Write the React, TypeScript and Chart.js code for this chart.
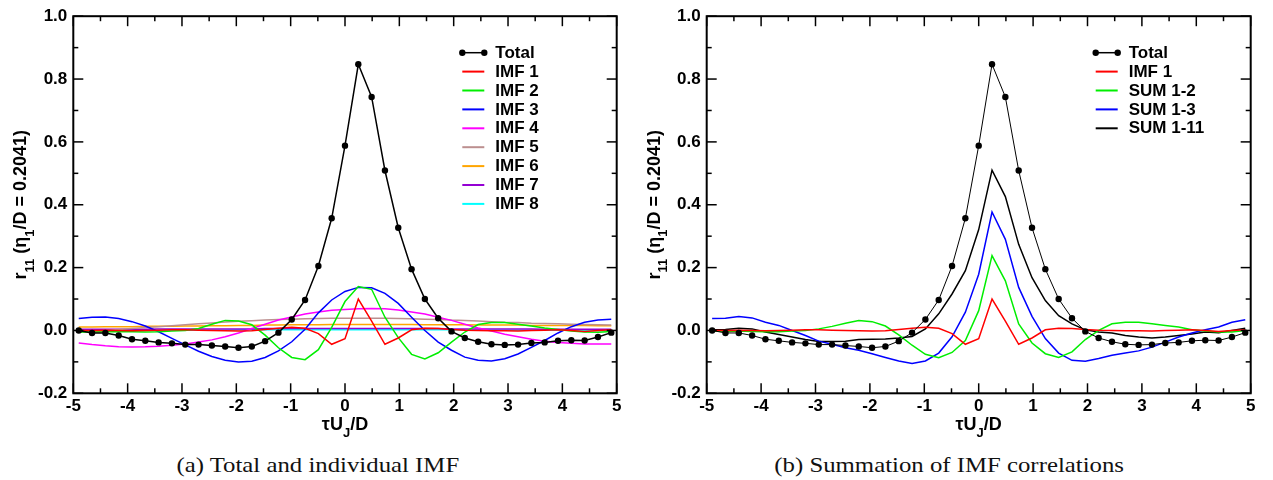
import React, { useEffect, useRef } from "react";
import { Chart, registerables } from "chart.js";
Chart.register(...registerables);

// ---- data ----
const tauUD = [
  -4.9, -4.655, -4.41, -4.165, -3.92, -3.675, -3.43, -3.185, -2.94, -2.695,
  -2.45, -2.205, -1.96, -1.715, -1.47, -1.225, -0.98, -0.735, -0.49, -0.245,
  0, 0.245, 0.49, 0.735, 0.98, 1.225, 1.47, 1.715, 1.96, 2.205,
  2.45, 2.695, 2.94, 3.185, 3.43, 3.675, 3.92, 4.165, 4.41, 4.655,
  4.9,
];

const totalR11 = [
  0.0, -0.008, -0.008, -0.016, -0.028, -0.033, -0.038, -0.041, -0.045, -0.045,
  -0.048, -0.051, -0.055, -0.051, -0.034, -0.007, 0.035, 0.097, 0.205, 0.357,
  0.588, 0.847, 0.743, 0.509, 0.327, 0.195, 0.1, 0.039, -0.003, -0.024,
  -0.036, -0.044, -0.046, -0.045, -0.04, -0.038, -0.033, -0.031, -0.032, -0.021,
  -0.007,
];

const imf1 = [
  0.0, 0.0, 0.001, 0.0, -0.001, 0.0, 0.001, 0.002, 0.002, 0.001,
  0.0, -0.001, -0.002, -0.001, 0.003, 0.007, 0.01, 0.007, -0.01, -0.044,
  -0.026, 0.1, 0.03, -0.044, -0.024, 0.002, 0.007, 0.006, 0.003, 0.001,
  0.0, -0.001, -0.001, -0.002, 0.0, 0.001, 0.002, 0.0, -0.003, 0.0,
  0.002,
];

const imf2 = [
  -0.005, -0.005, -0.004, -0.004, -0.004, -0.005, -0.004, -0.002, 0.0, 0.006,
  0.02, 0.032, 0.03, 0.018, -0.015, -0.055, -0.086, -0.093, -0.061, 0.01,
  0.092, 0.14, 0.131, 0.042, -0.023, -0.076, -0.091, -0.071, -0.037, -0.005,
  0.019, 0.025, 0.025, 0.02, 0.014, 0.008, 0.003, -0.002, -0.005, -0.006,
  -0.003,
];

const imf3 = [
  0.038, 0.042, 0.043, 0.038, 0.028, 0.014, -0.004, -0.025, -0.046, -0.066,
  -0.083, -0.095, -0.1, -0.098, -0.086, -0.065, -0.036, 0.004, 0.056, 0.097,
  0.124, 0.137, 0.136, 0.118, 0.086, 0.042, 0.0, -0.037, -0.063, -0.085,
  -0.095, -0.097, -0.09, -0.075, -0.054, -0.032, -0.008, 0.012, 0.026, 0.033,
  0.036,
];

const imf4 = [
  -0.04, -0.045, -0.049, -0.052, -0.053, -0.052, -0.05, -0.047, -0.043, -0.037,
  -0.03, -0.02, -0.008, 0.006, 0.02, 0.033, 0.043, 0.052, 0.059, 0.064,
  0.067, 0.069, 0.07, 0.069, 0.065, 0.059, 0.052, 0.042, 0.032, 0.02,
  0.008, -0.002, -0.012, -0.02, -0.028, -0.034, -0.038, -0.041, -0.043, -0.043,
  -0.043,
];

const imf5 = [
  -0.006, -0.003, 0.0, 0.003, 0.006, 0.009, 0.012, 0.015, 0.018, 0.021,
  0.024, 0.027, 0.029, 0.031, 0.033, 0.035, 0.036, 0.037, 0.038, 0.039,
  0.039, 0.039, 0.039, 0.039, 0.038, 0.037, 0.036, 0.035, 0.033, 0.032,
  0.03, 0.028, 0.026, 0.025, 0.023, 0.022, 0.021, 0.02, 0.019, 0.018,
  0.017,
];

const imf6 = [
  0.011, 0.011, 0.012, 0.012, 0.012, 0.013, 0.013, 0.013, 0.014, 0.014,
  0.015, 0.015, 0.016, 0.016, 0.017, 0.017, 0.018, 0.018, 0.018, 0.019,
  0.019, 0.019, 0.019, 0.019, 0.019, 0.019, 0.018, 0.018, 0.018, 0.018,
  0.017, 0.017, 0.017, 0.017, 0.016, 0.016, 0.016, 0.016, 0.016, 0.015,
  0.015,
];

const imf7 = [
  0.004, 0.004, 0.004, 0.004, 0.004, 0.004, 0.005, 0.005, 0.005, 0.005,
  0.005, 0.005, 0.005, 0.005, 0.006, 0.006, 0.006, 0.006, 0.006, 0.006,
  0.006, 0.006, 0.006, 0.006, 0.006, 0.006, 0.006, 0.006, 0.005, 0.005,
  0.005, 0.005, 0.005, 0.005, 0.005, 0.004, 0.004, 0.004, 0.004, 0.004,
  0.004,
];

const imf8 = [
  0.0, 0.0, 0.0, 0.001, 0.001, 0.001, 0.001, 0.001, 0.001, 0.001,
  0.001, 0.001, 0.002, 0.002, 0.002, 0.002, 0.002, 0.002, 0.002, 0.002,
  0.002, 0.002, 0.002, 0.002, 0.002, 0.002, 0.002, 0.002, 0.002, 0.001,
  0.001, 0.001, 0.001, 0.001, 0.001, 0.001, 0.001, 0.001, 0.0, 0.0,
  0.0,
];

const sum1to2 = [
  -0.002, -0.003, -0.002, -0.003, -0.004, -0.004, -0.002, 0.0, 0.005, 0.013,
  0.023, 0.032, 0.028, 0.014, -0.014, -0.047, -0.076, -0.087, -0.07, -0.032,
  0.063, 0.238, 0.158, 0.021, -0.04, -0.074, -0.086, -0.068, -0.029, 0.0,
  0.021, 0.026, 0.026, 0.021, 0.016, 0.011, 0.002, -0.002, -0.005, -0.005,
  0.0,
];

const sum1to3 = [
  0.038, 0.039, 0.044, 0.04, 0.026, 0.016, 0.0, -0.016, -0.034, -0.044,
  -0.055, -0.063, -0.074, -0.086, -0.097, -0.105, -0.097, -0.072, -0.02, 0.058,
  0.179, 0.377, 0.29, 0.137, 0.045, -0.026, -0.072, -0.095, -0.098, -0.089,
  -0.079, -0.072, -0.065, -0.053, -0.037, -0.021, -0.008, 0.002, 0.011, 0.026,
  0.034,
];

const sum1to11 = [
  0.002, 0.003, 0.007, 0.005, -0.005, -0.013, -0.021, -0.029, -0.035, -0.035,
  -0.034, -0.029, -0.028, -0.027, -0.024, -0.019, 0.005, 0.053, 0.116, 0.19,
  0.321, 0.51, 0.426, 0.274, 0.168, 0.095, 0.047, 0.021, 0.002, -0.005,
  -0.008, -0.016, -0.021, -0.024, -0.021, -0.016, -0.011, -0.005, -0.007, 0.0,
  0.007,
];

const captionA = "(a) Total and individual IMF";
const captionB = "(b) Summation of IMF correlations";

type SeriesDef = { label: string; values: number[]; color: string; width: number; dots?: boolean };

const seriesA: SeriesDef[] = [
  { label: "Total", values: totalR11, color: "#000000", width: 1.5, dots: true },
  { label: "IMF 1", values: imf1, color: "#ff0000", width: 1.5 },
  { label: "IMF 2", values: imf2, color: "#00ee00", width: 1.5 },
  { label: "IMF 3", values: imf3, color: "#0000ff", width: 1.5 },
  { label: "IMF 4", values: imf4, color: "#ff00ff", width: 1.5 },
  { label: "IMF 5", values: imf5, color: "#bc8f8f", width: 1.5 },
  { label: "IMF 6", values: imf6, color: "#ffa500", width: 1.5 },
  { label: "IMF 7", values: imf7, color: "#9400d3", width: 1.5 },
  { label: "IMF 8", values: imf8, color: "#00ffff", width: 1.5 },
];

const seriesB: SeriesDef[] = [
  { label: "Total", values: totalR11, color: "#000000", width: 1, dots: true },
  { label: "IMF 1", values: imf1, color: "#ff0000", width: 1.5 },
  { label: "SUM 1-2", values: sum1to2, color: "#00ee00", width: 1.5 },
  { label: "SUM 1-3", values: sum1to3, color: "#0000ff", width: 1.5 },
  { label: "SUM 1-11", values: sum1to11, color: "#000000", width: 1.5 },
];

const FONT = '"Liberation Sans", Arial, sans-serif';
const CANVAS_H = 440;

type Part = [string, boolean];

function richText(ctx: CanvasRenderingContext2D, parts: Part[], cx: number, baseline: number, size: number) {
  const big = `bold ${size}px ${FONT}`;
  const subSize = Math.round(size * 0.72);
  const small = `bold ${subSize}px ${FONT}`;
  let w = 0;
  for (const [t, sub] of parts) {
    ctx.font = sub ? small : big;
    w += ctx.measureText(t).width;
  }
  let x = cx - w / 2;
  ctx.textAlign = "left";
  ctx.textBaseline = "alphabetic";
  for (const [t, sub] of parts) {
    ctx.font = sub ? small : big;
    ctx.fillText(t, x, baseline + (sub ? size * 0.4 : 0));
    x += ctx.measureText(t).width;
  }
}

function decorPlugin(series: SeriesDef[]) {
  return {
    id: "decor",
    afterDraw(chart: any) {
      const { ctx, chartArea: a, scales } = chart;
      const xs = scales.x;
      const ys = scales.y;
      ctx.save();
      ctx.strokeStyle = "#000";
      ctx.lineWidth = 1.5;
      const seg = (x1: number, y1: number, x2: number, y2: number) => {
        ctx.beginPath();
        ctx.moveTo(x1, y1);
        ctx.lineTo(x2, y2);
        ctx.stroke();
      };
      for (let i = -10; i <= 10; i++) {
        const px = xs.getPixelForValue(i / 2);
        const len = i % 2 === 0 ? 10 : 5;
        seg(px, a.bottom, px, a.bottom - len);
        seg(px, a.top, px, a.top + len);
      }
      for (let j = -2; j <= 10; j++) {
        const py = ys.getPixelForValue(j / 10);
        const len = j % 2 === 0 ? 10 : 5;
        seg(a.left, py, a.left + len, py);
        seg(a.right, py, a.right - len, py);
      }
      ctx.lineWidth = 2;
      ctx.strokeRect(a.left, a.top, a.right - a.left, a.bottom - a.top);

      // legend
      const lx = a.left + 389;
      const ly = 52.7;
      const step = 18.9;
      series.forEach((s, i) => {
        const y = ly + i * step;
        ctx.strokeStyle = s.color;
        ctx.lineWidth = s.dots ? 1.5 : 2;
        seg(lx, y, lx + 22, y);
        if (s.dots) {
          ctx.fillStyle = s.color;
          for (const dx of [0, 22]) {
            ctx.beginPath();
            ctx.arc(lx + dx, y, 3.2, 0, Math.PI * 2);
            ctx.fill();
          }
        }
        ctx.fillStyle = "#000";
        ctx.font = `bold 17px ${FONT}`;
        ctx.textAlign = "left";
        ctx.textBaseline = "middle";
        ctx.fillText(s.label, lx + 33, y + 0.5);
      });

      // axis titles
      ctx.fillStyle = "#000";
      richText(ctx, [["τU", false], ["J", true], ["/D", false]], (a.left + a.right) / 2, 430, 18);
      ctx.save();
      ctx.translate(a.left - 47, (a.top + a.bottom) / 2);
      ctx.rotate(-Math.PI / 2);
      richText(
        ctx,
        [["r", false], ["11", true], [" (η", false], ["1", true], ["/D = 0.2041)", false]],
        0,
        0,
        18
      );
      ctx.restore();
      ctx.restore();
    },
  };
}

function Panel({ left, width, areaLeft, areaRight, series }: {
  left: number; width: number; areaLeft: number; areaRight: number; series: SeriesDef[];
}) {
  const ref = useRef<HTMLCanvasElement>(null);
  useEffect(() => {
    const canvas = ref.current;
    if (!canvas) return;
    const tickFont = { family: FONT, size: 17, weight: "bold" as const };
    const chart = new Chart(canvas, {
      type: "line",
      data: {
        datasets: series.map((s) => ({
          label: s.label,
          data: tauUD.map((x, i) => ({ x, y: s.values[i] })),
          borderColor: s.color,
          backgroundColor: s.color,
          borderWidth: s.width,
          pointRadius: s.dots ? 3.2 : 0,
          pointHoverRadius: 0,
          pointBackgroundColor: s.color,
          pointBorderWidth: 0,
          tension: 0,
          fill: false,
        })),
      },
      options: {
        animation: false,
        responsive: false,
        maintainAspectRatio: false,
        events: [],
        layout: { padding: { left: 0, top: 13.3, right: width - areaRight, bottom: 0 } },
        plugins: { legend: { display: false }, tooltip: { enabled: false } },
        scales: {
          x: {
            type: "linear",
            min: -5,
            max: 5,
            ticks: { stepSize: 1, color: "#000", font: tickFont, padding: 3, maxRotation: 0, autoSkip: false },
            grid: { display: false, drawTicks: false },
            border: { display: false },
            afterFit: (s: any) => { s.height = CANVAS_H - 393.3; },
          },
          y: {
            type: "linear",
            min: -0.2,
            max: 1.0,
            ticks: {
              stepSize: 0.2,
              color: "#000",
              font: tickFont,
              padding: 6,
              callback: (v: any) => {
                const n = Number(v);
                return (Math.abs(n) < 1e-9 ? 0 : n).toFixed(1);
              },
            },
            grid: { display: false, drawTicks: false },
            border: { display: false },
            afterFit: (s: any) => { s.width = areaLeft; },
          },
        },
      } as any,
      plugins: [decorPlugin(series)],
    });
    return () => chart.destroy();
  }, []);
  return (
    <canvas
      ref={ref}
      width={width}
      height={CANVAS_H}
      style={{ position: "absolute", left, top: 0, width, height: CANVAS_H }}
    />
  );
}

function Caption({ center, text }: { center: number; text: string }) {
  return (
    <div
      style={{
        position: "absolute",
        left: center - 250,
        width: 500,
        top: 455,
        textAlign: "center",
        fontFamily: '"Liberation Serif", serif',
        fontSize: 21,
        lineHeight: "21px",
        color: "#111",
        whiteSpace: "nowrap",
      }}
    >
      <span style={{ display: "inline-block", transform: "scaleX(1.18)" }}>{text}</span>
    </div>
  );
}

export default function App() {
  return (
    <div style={{ position: "fixed", left: 0, top: 0, width: 1273, height: 480, background: "#fff", overflow: "hidden" }}>
      <Panel left={0} width={636} areaLeft={73.3} areaRight={616.7} series={seriesA} />
      <Panel left={634} width={639} areaLeft={72.7} areaRight={616.7} series={seriesB} />
      <Caption center={318} text={captionA} />
      <Caption center={949} text={captionB} />
    </div>
  );
}
